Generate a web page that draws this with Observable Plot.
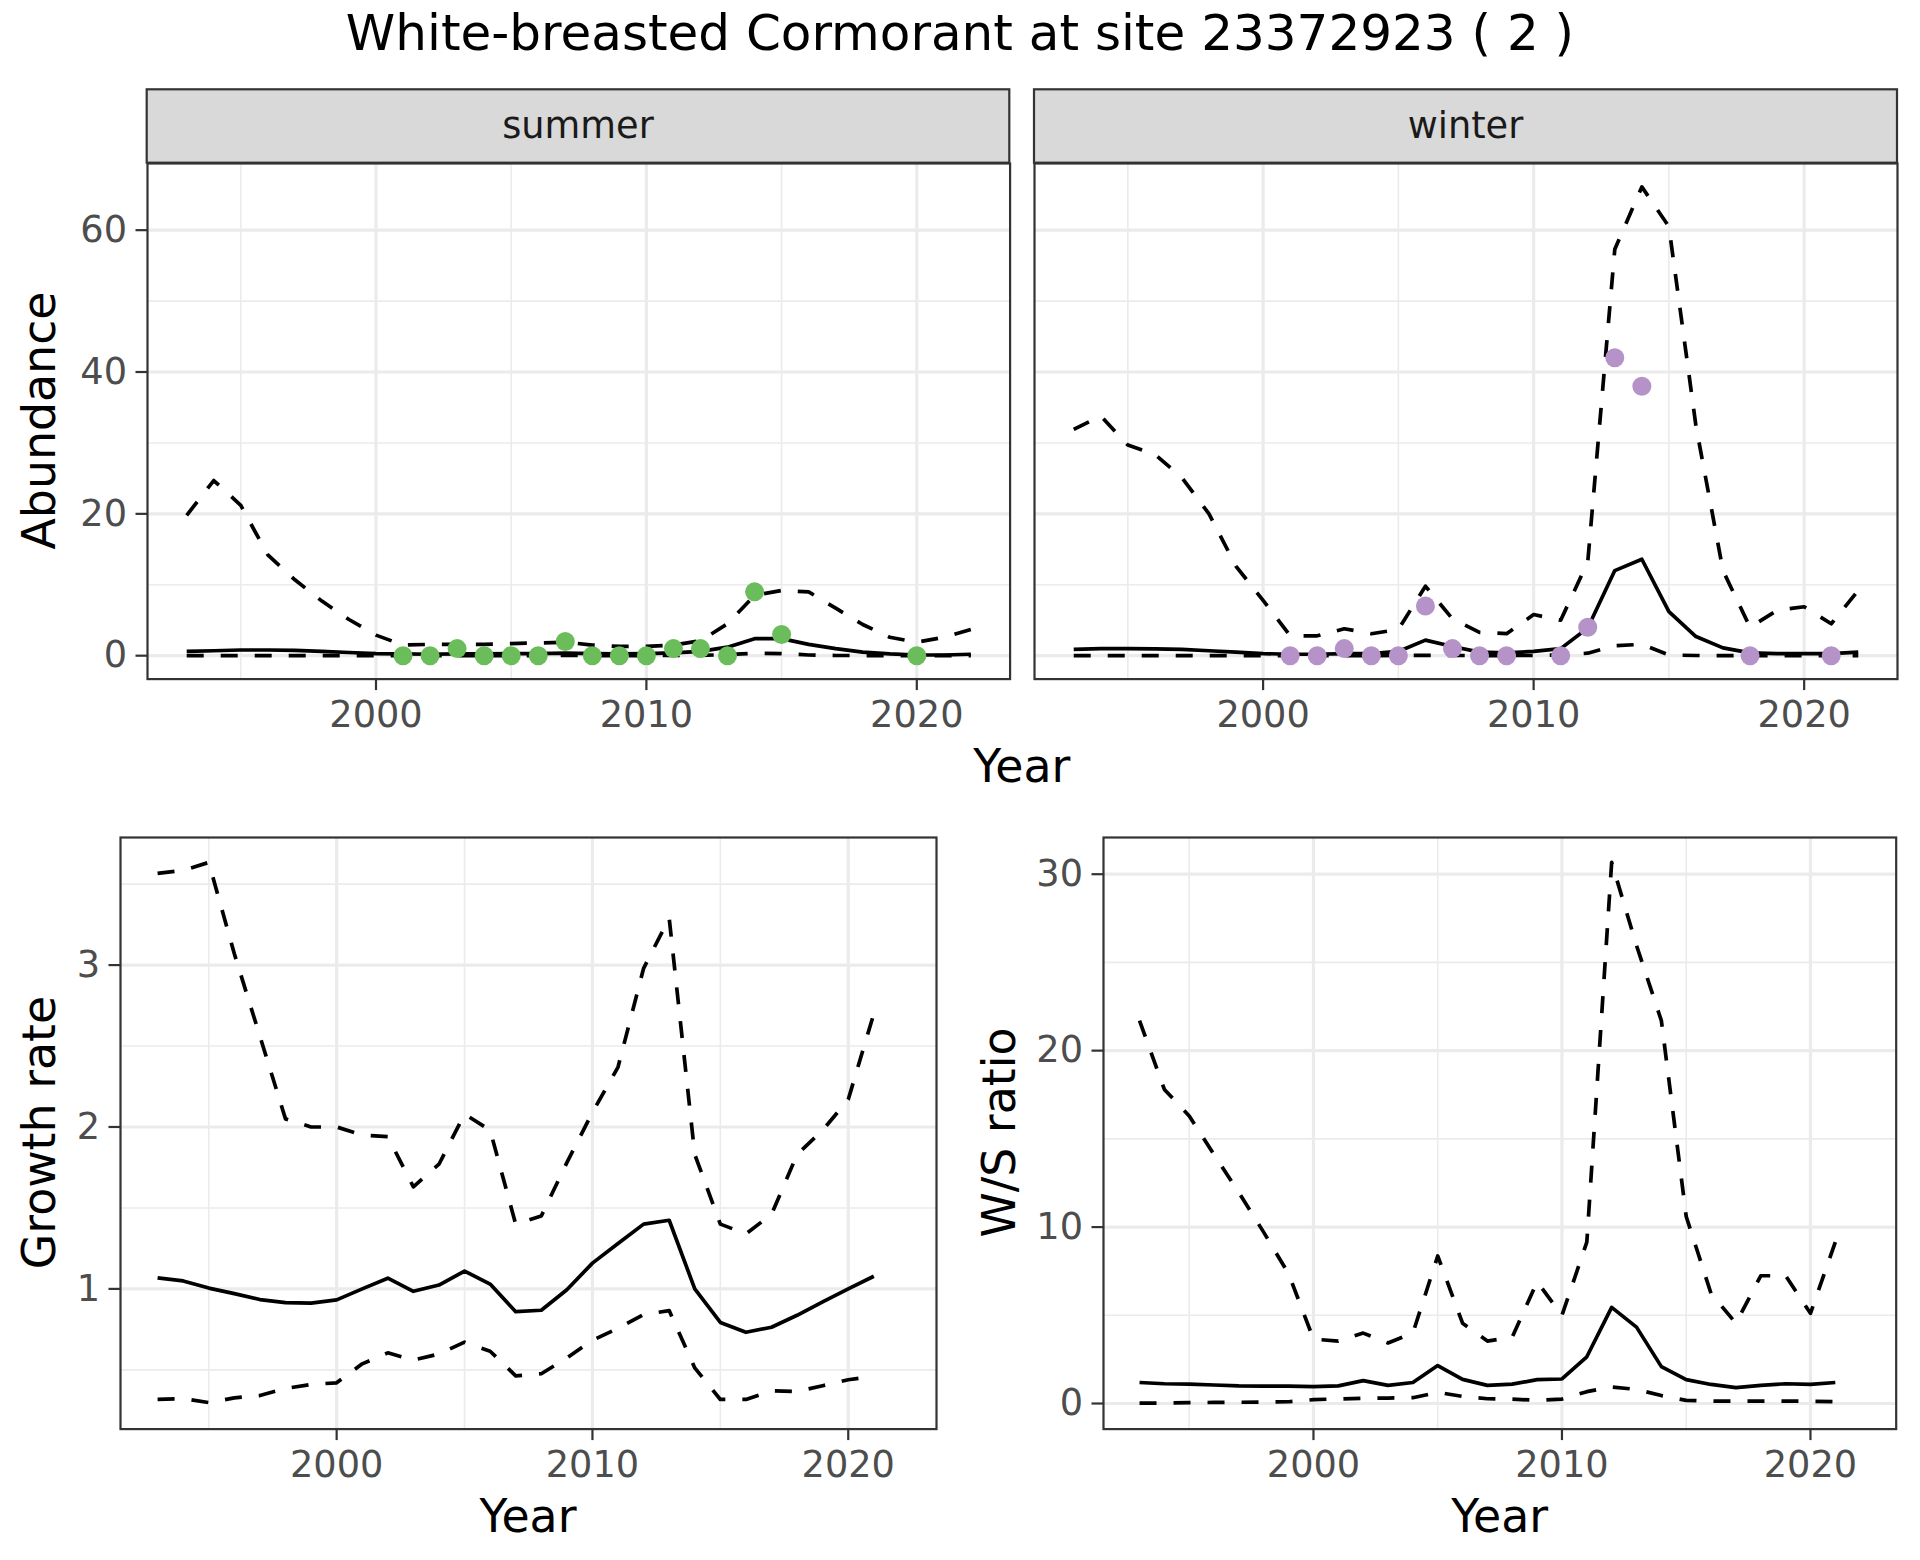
<!DOCTYPE html>
<html>
<head>
<meta charset="utf-8">
<script src="https://cdn.jsdelivr.net/npm/d3@7"></script>
<script src="https://cdn.jsdelivr.net/npm/@observablehq/plot@0.6"></script>
<style>
  html, body { margin: 0; padding: 0; background: #fff; }
  #root { position: relative; width: 1920px; height: 1560px; background: #fff; overflow: hidden; }
  #root > svg { position: absolute; }
</style>
</head>
<body>
<div id="root"></div>
<script>
// ---------------- data ----------------
const years = [1993, 1994, 1995, 1996, 1997, 1998, 1999, 2000, 2001, 2002, 2003, 2004, 2005, 2006, 2007,
               2008, 2009, 2010, 2011, 2012, 2013, 2014, 2015, 2016, 2017, 2018, 2019, 2020, 2021, 2022];

const summerMean  = [0.6, 0.7, 0.8, 0.8, 0.75, 0.6, 0.45, 0.3, 0.25, 0.2, 0.25, 0.25, 0.3, 0.3, 0.35,
                     0.3, 0.25, 0.3, 0.4, 0.6, 1.2, 2.4, 2.4, 1.6, 1.0, 0.5, 0.25, 0.1, 0.1, 0.2];
const summerLower = [0.02, 0.02, 0.02, 0.02, 0.02, 0.02, 0.02, 0.02, 0.02, 0.02, 0.02, 0.02, 0.02, 0.02, 0.03,
                     0.02, 0.02, 0.02, 0.03, 0.05, 0.15, 0.35, 0.3, 0.1, 0.03, 0.02, 0.02, 0.02, 0.02, 0.02];
const summerUpper = [19.8, 24.7, 21.2, 14.2, 10.7, 7.7, 5.1, 2.9, 1.5, 1.6, 1.6, 1.6, 1.7, 1.8, 1.9,
                     1.5, 1.3, 1.3, 1.5, 2.1, 4.5, 8.5, 9.2, 9.0, 6.7, 4.4, 2.6, 1.9, 2.6, 3.7];

const winterMean  = [0.9, 1.0, 1.0, 0.95, 0.9, 0.7, 0.5, 0.3, 0.2, 0.2, 0.3, 0.3, 0.6, 2.2, 1.3,
                     0.5, 0.4, 0.6, 1.0, 3.9, 12.0, 13.6, 6.2, 2.7, 1.1, 0.4, 0.3, 0.3, 0.3, 0.5];
const winterLower = [0.02, 0.02, 0.02, 0.02, 0.02, 0.02, 0.02, 0.02, 0.02, 0.02, 0.02, 0.02, 0.03, 0.05, 0.03,
                     0.02, 0.02, 0.03, 0.1, 0.35, 1.4, 1.6, 0.1, 0.03, 0.02, 0.02, 0.02, 0.02, 0.02, 0.02];
const winterUpper = [31.9, 33.8, 29.7, 28.4, 25.1, 20.0, 12.6, 7.8, 2.8, 2.8, 3.8, 3.1, 3.7, 9.8, 5.2,
                     3.3, 3.1, 5.8, 5.0, 13.2, 57.3, 66.1, 60.5, 32.4, 12.0, 4.0, 6.4, 6.9, 4.5, 9.2];

const summerObsYears = [2001, 2002, 2003, 2004, 2005, 2006, 2007, 2008, 2009, 2010, 2011, 2012, 2013, 2014, 2015, 2020];
const summerObs      = [0, 0, 1, 0, 0, 0, 2, 0, 0, 0, 1, 1, 0, 9, 3, 0];
const winterObsYears = [2001, 2002, 2003, 2004, 2005, 2006, 2007, 2008, 2009, 2011, 2012, 2013, 2014, 2018, 2021];
const winterObs      = [0, 0, 1, 0, 0, 7, 1, 0, 0, 0, 4, 42, 38, 0, 0];

// growth rate 1993-2021
const growthMean  = [1.068, 1.049, 1.005, 0.971, 0.934, 0.915, 0.912, 0.932, 1.0, 1.066, 0.985, 1.024, 1.11, 1.03, 0.859,
                     0.868, 0.995, 1.159, 1.28, 1.40, 1.424, 1.0, 0.793, 0.732, 0.763, 0.837, 0.92, 1.0, 1.078];
const growthUpper = [3.566, 3.585, 3.634, 3.07, 2.56, 2.05, 2.0, 2.0, 1.95, 1.94, 1.63, 1.77, 2.08, 1.98, 1.40,
                     1.45, 1.78, 2.09, 2.37, 2.98, 3.29, 1.83, 1.40, 1.34, 1.46, 1.83, 1.98, 2.17, 2.70];
const growthLower = [0.317, 0.322, 0.298, 0.327, 0.341, 0.385, 0.41, 0.42, 0.537, 0.605, 0.56, 0.598, 0.671, 0.615, 0.463,
                     0.476, 0.573, 0.683, 0.756, 0.841, 0.866, 0.512, 0.317, 0.317, 0.371, 0.366, 0.402, 0.439, 0.46];

// W/S ratio 1993-2021
const wsMean  = [1.19, 1.12, 1.10, 1.05, 1.0, 0.99, 0.99, 0.96, 1.0, 1.3, 1.03, 1.19, 2.15, 1.37, 1.03,
                 1.1, 1.35, 1.39, 2.65, 5.45, 4.33, 2.09, 1.35, 1.08, 0.9, 1.03, 1.12, 1.08, 1.19];
const wsUpper = [21.7, 17.8, 16.3, 14.1, 11.95, 9.7, 7.35, 3.65, 3.54, 3.99, 3.43, 3.99, 8.36, 4.55, 3.54,
                 3.77, 6.9, 5.0, 9.15, 30.67, 25.96, 21.7, 10.6, 6.23, 4.55, 7.24, 7.24, 5.11, 9.15];
const wsLower = [0.02, 0.03, 0.05, 0.06, 0.07, 0.08, 0.1, 0.22, 0.26, 0.3, 0.31, 0.33, 0.63, 0.4, 0.27,
                 0.25, 0.18, 0.25, 0.67, 0.94, 0.8, 0.45, 0.18, 0.13, 0.13, 0.13, 0.13, 0.13, 0.1];

const xMajor = [2000, 2010, 2020];
const xMinor = [1995, 2005, 2015];
const abundanceTicks = [0, 20, 40, 60];
const abundanceMinor = [10, 30, 50];
const growthTicks = [1, 2, 3];
const growthMinor = [0.5, 1.5, 2.5, 3.5];
const wsTicks = [0, 10, 20, 30];
const wsMinor = [5, 15, 25];

const titleText = "White-breasted Cormorant at site 23372923 ( 2 )";
const stripLabels = ["summer", "winter"];

// ---------------- helpers ----------------
const FONT = "DejaVu Sans";
const root = document.getElementById("root");

function table(ys, mean, lower, upper) {
  return ys.map((year, i) => ({year, mean: mean[i], lower: lower[i], upper: upper[i]}));
}
function obsTable(ys, vals) { return ys.map((year, i) => ({year, value: vals[i]})); }

const ML = 110, MR = 20, MT = 20, MB = 70;

function panel({left, top, right, bottom, yDomain, yTicks, yMinor, data, obs, color, showY = true}) {
  const w = right - left, h = bottom - top;
  const lineOpts = {x: "year", stroke: "black", strokeWidth: 3.7, strokeLinejoin: "round", strokeLinecap: "butt"};
  const marks = [
    Plot.gridX(xMinor, {stroke: "#EBEBEB", strokeOpacity: 1, strokeWidth: 1.6}),
    Plot.gridY(yMinor, {stroke: "#EBEBEB", strokeOpacity: 1, strokeWidth: 1.6}),
    Plot.gridX(xMajor, {stroke: "#EBEBEB", strokeOpacity: 1, strokeWidth: 3.2}),
    Plot.gridY(yTicks, {stroke: "#EBEBEB", strokeOpacity: 1, strokeWidth: 3.2}),
    Plot.line(data, {...lineOpts, y: "mean"}),
    Plot.line(data, {...lineOpts, y: "lower", strokeDasharray: "17,17"}),
    Plot.line(data, {...lineOpts, y: "upper", strokeDasharray: "17,17"}),
  ];
  if (obs) marks.push(Plot.dot(obs, {x: "year", y: "value", r: 9.5, fill: color, stroke: null}));
  marks.push(Plot.frame({stroke: "#333333", strokeWidth: 2.2}));
  marks.push(Plot.axisX(xMajor, {tickSize: 11.5, tickPadding: 10, stroke: "#333333", strokeWidth: 2.2,
                                 fill: "#4D4D4D", fontSize: 36.7, label: null, tickFormat: d => String(d)}));
  if (showY) marks.push(Plot.axisY(yTicks, {tickSize: 11.5, tickPadding: 9, stroke: "#333333", strokeWidth: 2.2,
                                 fill: "#4D4D4D", fontSize: 36.7, label: null, tickFormat: d => String(d)}));
  const svg = Plot.plot({
    width: w + ML + MR, height: h + MT + MB,
    marginLeft: ML, marginRight: MR, marginTop: MT, marginBottom: MB,
    x: {domain: [1991.55, 2023.45]},
    y: showY ? {domain: yDomain} : {domain: yDomain, axis: null},
    style: {fontFamily: FONT, fontSize: "36.7px", background: "transparent", overflow: "visible", maxWidth: "none"},
    marks
  });
  svg.style.left = (left - ML) + "px";
  svg.style.top = (top - MT) + "px";
  svg.style.width = (w + ML + MR) + "px";
  svg.style.height = (h + MT + MB) + "px";
  root.appendChild(svg);
}

// ---------------- panels ----------------
const TL = {left: 146.7, top: 162.7, right: 1009.3, bottom: 678.3};
const TR = {left: 1034, top: 162.7, right: 1897, bottom: 678.3};
const BL = {left: 120, top: 836.7, right: 936, bottom: 1428.3};
const BR = {left: 1103.3, top: 836.7, right: 1896, bottom: 1428.3};

panel({...TL, yDomain: [-3.3, 69.4], yTicks: abundanceTicks, yMinor: abundanceMinor,
       data: table(years, summerMean, summerLower, summerUpper), obs: obsTable(summerObsYears, summerObs), color: "#6BBD5B"});
panel({...TR, yDomain: [-3.3, 69.4], yTicks: abundanceTicks, yMinor: abundanceMinor, showY: false,
       data: table(years, winterMean, winterLower, winterUpper), obs: obsTable(winterObsYears, winterObs), color: "#B592C8"});
const gYears = years.slice(0, growthMean.length);
panel({...BL, yDomain: [0.134, 3.788], yTicks: growthTicks, yMinor: growthMinor,
       data: table(gYears, growthMean, growthLower, growthUpper)});
const wYears = years.slice(0, wsMean.length);
panel({...BR, yDomain: [-1.45, 32.08], yTicks: wsTicks, yMinor: wsMinor,
       data: table(wYears, wsMean, wsLower, wsUpper)});

// ---------------- overlay texts & strips ----------------
const ov = d3.select(root).append("svg")
  .attr("width", 1920).attr("height", 1560)
  .style("left", "0px").style("top", "0px")
  .style("pointer-events", "none")
  .attr("font-family", FONT);

ov.append("text").attr("x", 960).attr("y", 50).attr("text-anchor", "middle")
  .attr("font-size", 50).attr("fill", "#000").text(titleText);

[[TL, stripLabels[0]], [TR, stripLabels[1]]].forEach(([p, lab]) => {
  ov.append("rect").attr("x", p.left).attr("y", 89.3).attr("width", p.right - p.left).attr("height", p.top - 89.3)
    .attr("fill", "#D9D9D9").attr("stroke", "#333333").attr("stroke-width", 2.2);
  ov.append("text").attr("x", (p.left + p.right) / 2).attr("y", 138.3).attr("text-anchor", "middle")
    .attr("font-size", 36.7).attr("fill", "#1A1A1A").text(lab);
});

function xTitle(x, y, t) {
  ov.append("text").attr("x", x).attr("y", y).attr("text-anchor", "middle")
    .attr("font-size", 45.8).attr("fill", "#000").text(t);
}
function yTitle(x, y, t) {
  ov.append("text").attr("transform", `translate(${x},${y}) rotate(-90)`).attr("text-anchor", "middle")
    .attr("font-size", 45.8).attr("fill", "#000").text(t);
}
xTitle((TL.left + TR.right) / 2, 782, "Year");
xTitle((BL.left + BL.right) / 2, 1532, "Year");
xTitle((BR.left + BR.right) / 2, 1532, "Year");
yTitle(55, (TL.top + TL.bottom) / 2, "Abundance");
yTitle(55, (BL.top + BL.bottom) / 2, "Growth rate");
yTitle(1015, (BR.top + BR.bottom) / 2, "W/S ratio");
</script>
</body>
</html>
